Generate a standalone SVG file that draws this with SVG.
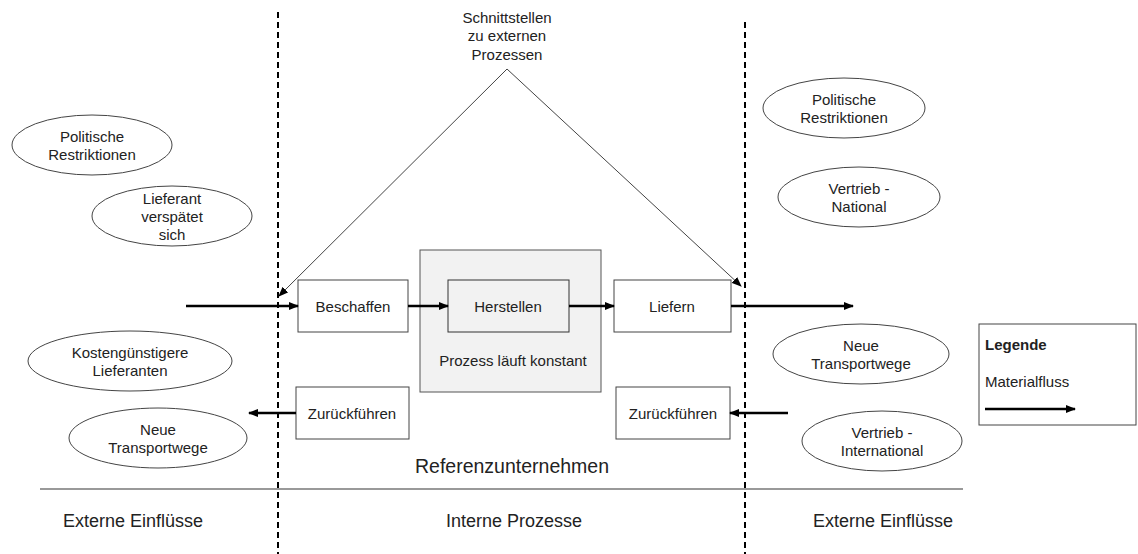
<svg xmlns="http://www.w3.org/2000/svg" width="1138" height="554" viewBox="0 0 1138 554">
<style>
text{font-family:"Liberation Sans",Arial,sans-serif;font-size:15px;fill:#222;text-anchor:middle}
.ell{fill:#fff;stroke:#444;stroke-width:1}
.box{fill:#fff;stroke:#444;stroke-width:1}
.flow{stroke:#000;stroke-width:2.5;fill:none;marker-end:url(#ah)}
.thin{stroke:#444;stroke-width:1;fill:none;marker-end:url(#ahs)}
.dash{stroke:#000;stroke-width:2;stroke-dasharray:6,4}
.big{font-size:18px}
</style>
<defs>
<marker id="ah" markerWidth="10" markerHeight="8" refX="9" refY="4" orient="auto" markerUnits="userSpaceOnUse"><path d="M0,0 L10,4 L0,8 z" fill="#000"/></marker>
<marker id="ahs" markerWidth="10" markerHeight="8" refX="9" refY="4" orient="auto" markerUnits="userSpaceOnUse"><path d="M0,0 L10,4 L0,8 z" fill="#000"/></marker>
</defs>
<rect width="1138" height="554" fill="#fff"/>

<g id="separators">
<line class="dash" x1="278" y1="12" x2="278" y2="554"/>
<line class="dash" x1="745" y1="22" x2="745" y2="554"/>
<line x1="40" y1="489" x2="963" y2="489" stroke="#777" stroke-width="1.5"/>
</g>

<g id="ext-left-1"><ellipse class="ell" cx="92" cy="145" rx="80" ry="30"/><text x="92" y="142">Politische</text><text x="92" y="160">Restriktionen</text></g>
<g id="ext-left-2"><ellipse class="ell" cx="172" cy="216" rx="80" ry="30"/><text x="172" y="204">Lieferant</text><text x="172" y="222">verspätet</text><text x="172" y="240">sich</text></g>
<g id="ext-left-3"><ellipse class="ell" cx="130" cy="361" rx="102" ry="30"/><text x="130" y="358">Kostengünstigere</text><text x="130" y="376">Lieferanten</text></g>
<g id="ext-left-4"><ellipse class="ell" cx="158" cy="438" rx="89" ry="30"/><text x="158" y="435">Neue</text><text x="158" y="453">Transportwege</text></g>

<g id="ext-right-1"><ellipse class="ell" cx="844" cy="108" rx="81" ry="30"/><text x="844" y="105">Politische</text><text x="844" y="123">Restriktionen</text></g>
<g id="ext-right-2"><ellipse class="ell" cx="859" cy="197" rx="81" ry="30"/><text x="859" y="194">Vertrieb -</text><text x="859" y="212">National</text></g>
<g id="ext-right-3"><ellipse class="ell" cx="861" cy="354" rx="88" ry="30"/><text x="861" y="351">Neue</text><text x="861" y="369">Transportwege</text></g>
<g id="ext-right-4"><ellipse class="ell" cx="882" cy="441" rx="80" ry="30"/><text x="882" y="438">Vertrieb -</text><text x="882" y="456">International</text></g>

<g id="produktion"><rect x="420" y="250" width="181" height="142" fill="#f2f2f2" stroke="#555" stroke-width="1"/><text x="513" y="366">Prozess läuft konstant</text></g>
<g id="beschaffen"><rect class="box" x="298" y="280" width="110" height="52"/><text x="353" y="312">Beschaffen</text></g>
<g id="herstellen"><rect x="448" y="280" width="121" height="52" fill="#f2f2f2" stroke="#333" stroke-width="1"/><text x="508" y="312">Herstellen</text></g>
<g id="liefern"><rect class="box" x="614" y="280" width="117" height="52"/><text x="672" y="312">Liefern</text></g>
<g id="zurueck-left"><rect class="box" x="296" y="387" width="113" height="52"/><text x="352" y="419">Zurückführen</text></g>
<g id="zurueck-right"><rect class="box" x="616" y="387" width="114" height="52"/><text x="673" y="419">Zurückführen</text></g>

<g id="schnittstellen"><text x="507" y="23">Schnittstellen</text><text x="507" y="41">zu externen</text><text x="507" y="60">Prozessen</text></g>

<g id="connectors">
<line class="flow" x1="186" y1="306" x2="298" y2="306"/>
<line class="flow" x1="408" y1="306" x2="448" y2="306"/>
<line class="flow" x1="569" y1="306" x2="614" y2="306"/>
<line class="flow" x1="731" y1="306" x2="853" y2="306"/>
<line class="flow" x1="788" y1="413" x2="730" y2="413"/>
<line class="flow" x1="296" y1="413" x2="249" y2="413"/>
<line class="thin" x1="507" y1="69" x2="279" y2="296"/>
<line class="thin" x1="507" y1="69" x2="741" y2="286"/>
</g>

<g id="referenz"><text x="512" y="473" style="font-size:19.5px">Referenzunternehmen</text></g>

<g id="labels">
<text class="big" x="133" y="527">Externe Einflüsse</text>
<text class="big" x="514" y="527">Interne Prozesse</text>
<text class="big" x="883" y="527">Externe Einflüsse</text>
</g>

<g id="legende">
<rect class="box" x="979" y="324" width="157" height="101"/>
<text x="985" y="350" style="text-anchor:start;font-weight:bold">Legende</text>
<text x="985" y="387" style="text-anchor:start">Materialfluss</text>
<line class="flow" x1="985" y1="409" x2="1075" y2="409"/>
</g>
</svg>
